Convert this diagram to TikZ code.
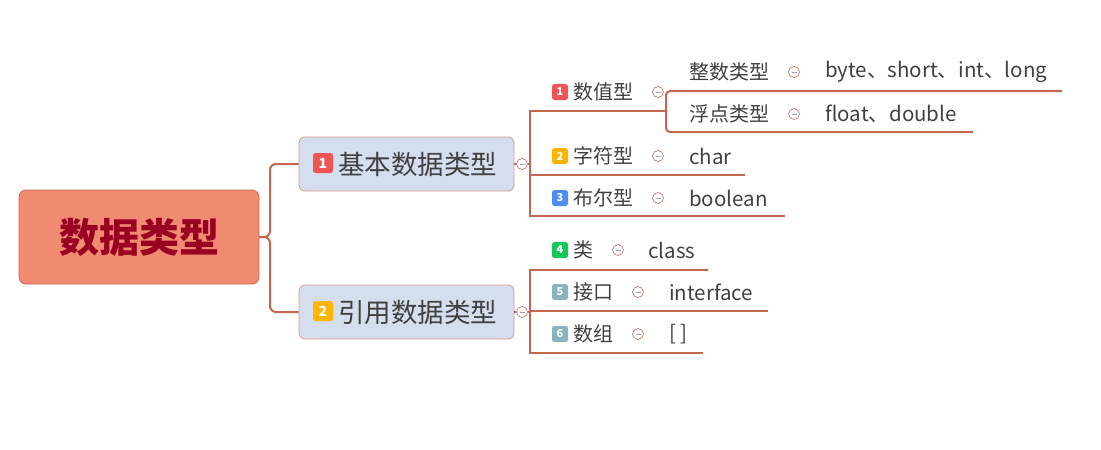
\documentclass[tikz,border=0pt]{standalone}
\usepackage{fontspec}
\setmainfont{Noto Sans CJK SC}
\definecolor{conncol}{HTML}{C5664F}
\definecolor{rootfill}{HTML}{F08A70}
\definecolor{rootborder}{HTML}{D0654F}
\definecolor{roottext}{HTML}{990022}
\definecolor{mainfill}{HTML}{D5DEEC}
\definecolor{mainborder}{HTML}{DA9A8C}
\definecolor{txt}{HTML}{404040}
\definecolor{circborder}{HTML}{C97B6A}
\definecolor{minuscol}{HTML}{9AA3C8}
\definecolor{bred}{HTML}{F05454}
\definecolor{borange}{HTML}{FFB400}
\definecolor{bblue}{HTML}{4C8DF6}
\definecolor{bgreen}{HTML}{12C95A}
\definecolor{bgray}{HTML}{8AB4BC}
\begin{document}
\begin{tikzpicture}[x=1pt,y=-1pt,
  root/.style={draw=rootborder, fill=rootfill, rounded corners=7pt, minimum width=240pt, minimum height=94pt, inner sep=0pt, line width=0.8pt, text=roottext, font=\fontsize{40}{42}\selectfont\bfseries},
  mainbox/.style={draw=mainborder, fill=mainfill, rounded corners=6pt, minimum width=215pt, minimum height=54pt, inner sep=0pt, line width=0.8pt},
  mtext/.style={anchor=west, inner sep=0pt, text=txt, font=\fontsize{26.5}{28}\selectfont},
  ltext/.style={anchor=west, inner sep=0pt, text=txt, font=\fontsize{20}{22}\selectfont},
  vtext/.style={anchor=west, inner sep=0pt, text=txt, font=\fontsize{20.5}{22}\selectfont},
  badge/.style={fill=#1, rounded corners=2.5pt, minimum size=16pt, inner sep=0pt, text=white, font=\fontsize{11}{12}\selectfont\bfseries},
  mbadge/.style={badge=#1, minimum size=20pt, font=\fontsize{14}{15}\selectfont\bfseries},
  collapse/.style={circle, draw=circborder, fill=white, minimum size=11pt, inner sep=0pt, line width=0.7pt,
    path picture={\draw[minuscol, line width=1pt] ([xshift=-2.5pt]path picture bounding box.center) -- ([xshift=2.5pt]path picture bounding box.center);}},
  conn/.style={draw=conncol, line width=2pt},
  thin conn/.style={draw=conncol, line width=1.2pt}
]
\useasboundingbox (0,0) rectangle (1101,450);

% root
\node[root] (root) at (139,237) {数据类型};

% main nodes
\node[mainbox] (b1) at (406.5,164) {};
\node[mbadge=bred] (mb1) at (323,163) {1};
\node[mtext] (t1) at (338,164) {基本数据类型};
\node[mainbox] (b2) at (406.5,312) {};
\node[mbadge=borange] (mb2) at (323,311) {2};
\node[mtext] (t2) at (338,312) {引用数据类型};

\coordinate (rj) at (270,237);
\draw[conn, rounded corners=6pt] (root.east) -- (rj) |- (b1.west);
\draw[conn, rounded corners=6pt] (root.east) -- (rj) |- (b2.west);

% collapse circles of main nodes
\node[collapse] (c1) at (522,164) {};
\node[collapse] (c2) at (522,312) {};
\coordinate (j1) at (530,164);
\coordinate (j2) at (530,312);
\draw[thin conn] (b1.east) -- (c1.west);
\draw[thin conn] (c1.east) -- (j1);
\draw[thin conn] (b2.east) -- (c2.west);
\draw[thin conn] (c2.east) -- (j2);

% branch 1 lines
\coordinate (a1) at (530,111); \coordinate (a1e) at (666,111);
\coordinate (a2) at (530,175); \coordinate (a2e) at (745,175);
\coordinate (a3) at (530,216); \coordinate (a3e) at (785,216);
\draw[conn] (a1e) -- (a1) -- (a3) -- (a3e);
\draw[conn] (a2) -- (a2e);
\coordinate (s1) at (666,91); \coordinate (s1e) at (1062,91);
\coordinate (s2) at (666,132); \coordinate (s2e) at (973,132);
\draw[conn, rounded corners=4pt] (s1e) -- (s1) -- (s2) -- (s2e);

% branch 2 lines
\coordinate (e1) at (530,270); \coordinate (e1e) at (708,270);
\coordinate (e2) at (530,311); \coordinate (e2e) at (768,311);
\coordinate (e3) at (530,353); \coordinate (e3e) at (703,353);
\draw[conn] (e1e) -- (e1) -- (e3) -- (e3e);
\draw[conn] (e2) -- (e2e);

% branch 1 leaves
\node[badge=bred] (g1) at (560,92) {1};
\node[ltext] (l1) at (573,92) {数值型};
\node[collapse] (k1) at (658,92) {};
\node[ltext] (l11) at (689,72) {整数类型};
\node[collapse] (k11) at (794,72) {};
\node[vtext] (v11) at (825,72) {byte、short、int、long};
\node[ltext] (l12) at (689,114) {浮点类型};
\node[collapse] (k12) at (794,114) {};
\node[vtext] (v12) at (825,114) {float、double};

\node[badge=borange] (g2) at (560,156) {2};
\node[ltext] (l2) at (573,156) {字符型};
\node[collapse] (k2) at (658,156) {};
\node[vtext] (v2) at (689,156) {char};

\node[badge=bblue] (g3) at (560,198) {3};
\node[ltext] (l3) at (573,198) {布尔型};
\node[collapse] (k3) at (658,198) {};
\node[vtext] (v3) at (689,198) {boolean};

% branch 2 leaves
\node[badge=bgreen] (g4) at (560,250) {4};
\node[ltext] (l4) at (573,250) {类};
\node[collapse] (k4) at (618,250) {};
\node[vtext] (v4) at (648,250) {class};

\node[badge=bgray] (g5) at (560,292) {5};
\node[ltext] (l5) at (573,292) {接口};
\node[collapse] (k5) at (638,292) {};
\node[vtext] (v5) at (669,292) {interface};

\node[badge=bgray] (g6) at (560,334) {6};
\node[ltext] (l6) at (573,334) {数组};
\node[collapse] (k6) at (638,334) {};
\node[vtext] (v6) at (669,334) {[ ]};
\end{tikzpicture}
\end{document}
